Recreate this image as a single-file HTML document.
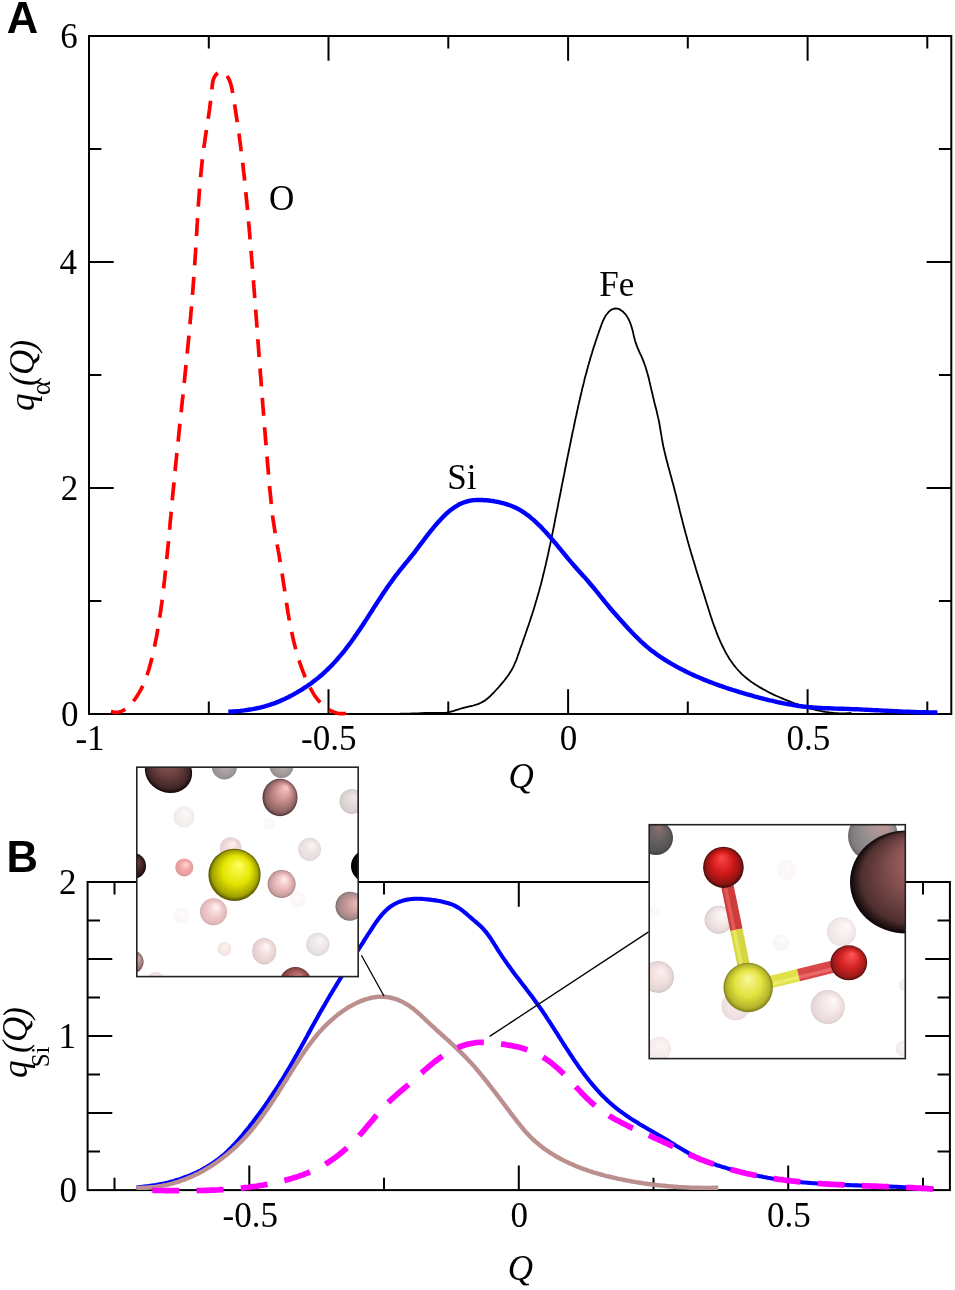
<!DOCTYPE html>
<html><head><meta charset="utf-8"><style>
html,body{margin:0;padding:0;background:#fff;width:955px;height:1290px;overflow:hidden}
svg{display:block;filter:blur(0.35px)}
</style></head><body>
<svg width="955" height="1290" viewBox="0 0 955 1290">
<rect x="89.0" y="36.0" width="862.3" height="678.0" fill="none" stroke="#000" stroke-width="2"/>
<path d="M328.5,714.0v-24.7M328.5,36.0v24.7M568.1,714.0v-24.7M568.1,36.0v24.7M807.6,714.0v-24.7M807.6,36.0v24.7M208.8,714.0v-12.4M208.8,36.0v12.4M448.3,714.0v-12.4M448.3,36.0v12.4M687.8,714.0v-12.4M687.8,36.0v12.4M927.3,714.0v-12.4M927.3,36.0v12.4M89.0,488.0h24.7M951.3,488.0h-24.7M89.0,262.0h24.7M951.3,262.0h-24.7M89.0,601.0h12.4M951.3,601.0h-12.4M89.0,375.0h12.4M951.3,375.0h-12.4M89.0,149.0h12.4M951.3,149.0h-12.4" stroke="#000" stroke-width="2" fill="none"/>
<path d="M111.0,711.4L113.2,712.0L115.3,712.3L117.3,712.3L119.2,712.0L121.1,711.4L122.8,710.6L124.5,709.7L126.2,708.5L127.7,707.3L129.2,705.9L130.6,704.4L132.0,702.8L133.3,701.2L134.6,699.6L135.8,698.0L136.9,696.3L138.0,694.6L139.0,692.9L140.0,691.1L141.0,689.4L141.9,687.6L142.8,685.8L143.6,684.0L144.4,682.2L145.1,680.3L145.8,678.5L146.5,676.6L147.2,674.7L147.8,672.8L148.4,670.9L149.0,669.0L149.5,667.1L150.1,665.1L150.6,663.2L151.1,661.3L151.6,659.3L152.1,657.4L152.5,655.4L153.0,653.5L153.4,651.5L153.9,649.6L154.3,647.6L154.7,645.7L155.1,643.7L155.5,641.7L155.9,639.8L156.3,637.8L156.7,635.9L157.0,633.9L157.4,631.9L157.7,629.9L158.1,628.0L158.4,626.0L158.7,624.0L159.0,622.0L159.3,620.1L159.6,618.1L159.9,616.1L160.2,614.1L160.5,612.1L160.8,610.1L161.1,608.1L161.3,606.2L161.6,604.2L161.9,602.2L162.1,600.2L162.4,598.2L162.6,596.2L162.8,594.2L163.1,592.2L163.3,590.2L163.6,588.2L163.8,586.2L164.0,584.3L164.2,582.3L164.5,580.3L164.7,578.3L164.9,576.3L165.1,574.3L165.3,572.3L165.6,570.3L165.8,568.3L166.0,566.3L166.2,564.3L166.4,562.3L166.6,560.3L166.8,558.3L167.0,556.3L167.2,554.3L167.4,552.3L167.6,550.3L167.8,548.3L168.0,546.3L168.2,544.3L168.4,542.4L168.5,540.4L168.7,538.4L168.9,536.4L169.1,534.4L169.3,532.4L169.5,530.4L169.7,528.4L169.9,526.4L170.0,524.4L170.2,522.4L170.4,520.4L170.6,518.4L170.8,516.4L171.0,514.4L171.1,512.4L171.3,510.4L171.5,508.4L171.7,506.4L171.9,504.4L172.1,502.4L172.3,500.4L172.4,498.4L172.6,496.4L172.8,494.4L173.0,492.4L173.2,490.5L173.4,488.5L173.6,486.5L173.8,484.5L174.0,482.5L174.2,480.5L174.3,478.5L174.5,476.5L174.7,474.5L174.9,472.5L175.1,470.5L175.3,468.5L175.5,466.5L175.7,464.5L175.9,462.6L176.1,460.6L176.3,458.6L176.5,456.6L176.7,454.6L176.9,452.6L177.1,450.6L177.4,448.6L177.6,446.6L177.8,444.6L178.0,442.6L178.2,440.7L178.4,438.7L178.6,436.7L178.8,434.7L179.0,432.7L179.2,430.7L179.4,428.7L179.6,426.7L179.8,424.7L180.0,422.7L180.3,420.8L180.5,418.8L180.7,416.8L180.9,414.8L181.1,412.8L181.3,410.8L181.5,408.8L181.7,406.8L181.9,404.8L182.1,402.8L182.3,400.9L182.5,398.9L182.8,396.9L183.0,394.9L183.2,392.9L183.4,390.9L183.6,388.9L183.8,386.9L184.0,384.9L184.2,382.9L184.4,381.0L184.6,379.0L184.8,377.0L185.0,375.0L185.2,373.0L185.4,371.0L185.6,369.0L185.8,367.0L186.0,365.0L186.2,363.0L186.4,361.0L186.6,359.0L186.8,357.0L187.0,355.1L187.2,353.1L187.4,351.1L187.6,349.1L187.8,347.1L188.0,345.1L188.2,343.1L188.4,341.1L188.6,339.1L188.8,337.1L188.9,335.1L189.1,333.1L189.3,331.1L189.5,329.1L189.7,327.1L189.9,325.1L190.1,323.1L190.2,321.1L190.4,319.1L190.6,317.1L190.8,315.1L190.9,313.1L191.1,311.1L191.3,309.1L191.5,307.1L191.6,305.1L191.8,303.1L192.0,301.1L192.1,299.1L192.3,297.1L192.5,295.1L192.6,293.1L192.8,291.1L192.9,289.1L193.1,287.1L193.2,285.1L193.4,283.1L193.5,281.1L193.7,279.1L193.8,277.1L194.0,275.0L194.1,273.0L194.3,271.0L194.4,269.0L194.5,267.0L194.7,265.0L194.8,263.0L194.9,261.0L195.1,259.0L195.2,256.9L195.3,254.9L195.5,252.9L195.6,250.9L195.7,248.9L195.8,246.9L195.9,244.9L196.1,242.8L196.2,240.8L196.3,238.8L196.4,236.8L196.5,234.8L196.7,232.8L196.8,230.8L196.9,228.7L197.0,226.7L197.1,224.7L197.3,222.7L197.4,220.7L197.5,218.7L197.6,216.7L197.7,214.7L197.9,212.6L198.0,210.6L198.1,208.6L198.3,206.6L198.4,204.6L198.5,202.6L198.7,200.6L198.8,198.6L199.0,196.6L199.1,194.6L199.3,192.6L199.4,190.6L199.6,188.6L199.7,186.6L199.9,184.6L200.1,182.6L200.2,180.6L200.4,178.6L200.6,176.6L200.8,174.7L201.0,172.7L201.2,170.7L201.4,168.7L201.6,166.7L201.8,164.8L202.0,162.8L202.2,160.8L202.4,158.8L202.7,156.9L202.9,154.9L203.2,152.9L203.4,151.0L203.7,149.0L203.9,147.1L204.2,145.1L204.5,143.2L204.8,141.2L205.0,139.3L205.3,137.3L205.6,135.4L205.9,133.4L206.2,131.4L206.5,129.5L206.8,127.5L207.1,125.6L207.4,123.6L207.7,121.6L208.0,119.7L208.3,117.7L208.6,115.7L208.9,113.7L209.2,111.7L209.5,109.7L209.7,107.7L210.0,105.7L210.3,103.6L210.5,101.6L210.8,99.5L211.0,97.5L211.3,95.4L211.5,93.3L211.7,91.2L211.9,89.1L212.1,87.0L212.3,84.9L212.6,82.8L213.0,80.8L213.6,78.9L214.3,77.2L215.3,75.5L216.5,74.1L218.0,72.8L219.7,71.9L221.5,71.6L223.2,72.0L224.7,73.0L226.2,74.6L227.4,76.4L228.5,78.3L229.4,80.3L230.2,82.2L230.8,84.2L231.3,86.1L231.8,88.1L232.2,90.1L232.5,92.0L232.8,94.0L233.1,95.9L233.4,97.9L233.8,99.9L234.1,101.9L234.4,103.8L234.8,105.8L235.1,107.8L235.4,109.8L235.7,111.7L236.0,113.7L236.3,115.7L236.6,117.7L236.9,119.7L237.2,121.6L237.5,123.6L237.8,125.6L238.1,127.6L238.4,129.6L238.7,131.6L238.9,133.5L239.2,135.5L239.5,137.5L239.7,139.5L240.0,141.5L240.3,143.5L240.5,145.5L240.8,147.4L241.0,149.4L241.3,151.4L241.5,153.4L241.8,155.4L242.0,157.4L242.3,159.4L242.5,161.4L242.7,163.4L243.0,165.3L243.2,167.3L243.4,169.3L243.6,171.3L243.9,173.3L244.1,175.3L244.3,177.3L244.5,179.3L244.7,181.3L244.9,183.3L245.1,185.3L245.3,187.3L245.5,189.3L245.7,191.2L245.9,193.2L246.1,195.2L246.3,197.2L246.5,199.2L246.7,201.2L246.9,203.2L247.1,205.2L247.3,207.2L247.5,209.2L247.7,211.2L247.9,213.2L248.0,215.2L248.2,217.2L248.4,219.2L248.6,221.2L248.7,223.2L248.9,225.2L249.1,227.2L249.3,229.2L249.4,231.2L249.6,233.2L249.8,235.2L249.9,237.2L250.1,239.2L250.3,241.2L250.4,243.2L250.6,245.2L250.8,247.2L250.9,249.2L251.1,251.2L251.3,253.2L251.4,255.2L251.6,257.2L251.7,259.2L251.9,261.2L252.1,263.2L252.2,265.2L252.4,267.2L252.5,269.2L252.7,271.2L252.8,273.2L253.0,275.2L253.2,277.2L253.3,279.2L253.5,281.2L253.6,283.2L253.8,285.2L253.9,287.2L254.1,289.2L254.2,291.1L254.4,293.1L254.5,295.1L254.7,297.1L254.8,299.1L255.0,301.1L255.1,303.1L255.3,305.1L255.4,307.1L255.6,309.1L255.8,311.1L255.9,313.1L256.1,315.1L256.2,317.1L256.4,319.1L256.5,321.1L256.7,323.1L256.8,325.1L257.0,327.1L257.1,329.1L257.3,331.1L257.4,333.1L257.6,335.1L257.7,337.1L257.8,339.1L258.0,341.1L258.1,343.1L258.3,345.1L258.4,347.1L258.6,349.1L258.7,351.1L258.9,353.1L259.0,355.1L259.2,357.1L259.3,359.1L259.5,361.1L259.6,363.1L259.8,365.1L259.9,367.1L260.1,369.1L260.2,371.1L260.4,373.1L260.5,375.1L260.7,377.1L260.9,379.1L261.0,381.1L261.2,383.1L261.3,385.1L261.5,387.1L261.6,389.1L261.8,391.1L261.9,393.1L262.1,395.1L262.2,397.1L262.4,399.1L262.5,401.1L262.7,403.1L262.8,405.1L263.0,407.1L263.2,409.1L263.3,411.1L263.5,413.1L263.6,415.1L263.8,417.1L263.9,419.1L264.1,421.1L264.3,423.1L264.4,425.1L264.6,427.1L264.7,429.1L264.9,431.1L265.1,433.1L265.2,435.1L265.4,437.1L265.5,439.1L265.7,441.0L265.9,443.0L266.0,445.0L266.2,447.0L266.4,449.0L266.5,451.0L266.7,453.0L266.9,455.0L267.0,457.0L267.2,459.0L267.4,461.0L267.5,463.0L267.7,465.0L267.9,467.0L268.1,469.0L268.2,471.0L268.4,473.0L268.6,475.0L268.8,477.0L268.9,479.0L269.1,481.0L269.3,483.0L269.5,485.0L269.6,487.0L269.8,489.0L270.0,491.0L270.2,492.9L270.4,494.9L270.6,496.9L270.8,498.9L271.0,500.9L271.2,502.9L271.4,504.9L271.6,506.9L271.8,508.9L272.0,510.9L272.3,512.9L272.5,514.9L272.7,516.8L273.0,518.8L273.3,520.8L273.6,522.8L273.9,524.8L274.2,526.8L274.5,528.7L274.8,530.7L275.1,532.7L275.4,534.7L275.8,536.7L276.1,538.6L276.5,540.6L276.8,542.6L277.2,544.6L277.5,546.5L277.9,548.5L278.2,550.5L278.6,552.5L278.9,554.5L279.3,556.4L279.6,558.4L279.9,560.4L280.3,562.4L280.6,564.3L280.9,566.3L281.2,568.3L281.6,570.3L281.9,572.3L282.2,574.3L282.5,576.2L282.8,578.2L283.1,580.2L283.4,582.2L283.7,584.2L284.0,586.1L284.3,588.1L284.6,590.1L284.8,592.1L285.1,594.1L285.4,596.1L285.7,598.0L286.0,600.0L286.3,602.0L286.6,604.0L287.0,605.9L287.3,607.9L287.6,609.9L287.9,611.9L288.2,613.8L288.6,615.8L288.9,617.8L289.3,619.7L289.6,621.7L290.0,623.7L290.4,625.6L290.8,627.6L291.2,629.5L291.6,631.5L292.0,633.5L292.4,635.4L292.8,637.4L293.3,639.3L293.7,641.2L294.2,643.2L294.7,645.1L295.2,647.1L295.7,649.0L296.2,650.9L296.8,652.8L297.3,654.8L297.9,656.7L298.5,658.6L299.1,660.5L299.7,662.4L300.4,664.3L301.0,666.2L301.7,668.1L302.4,670.0L303.1,671.9L303.9,673.8L304.6,675.7L305.4,677.6L306.2,679.4L307.0,681.3L307.9,683.2L308.8,685.0L309.7,686.8L310.6,688.7L311.6,690.4L312.6,692.2L313.6,693.9L314.7,695.6L315.9,697.2L317.1,698.8L318.3,700.4L319.6,701.8L320.9,703.3L322.3,704.6L323.8,705.9L325.3,707.2L326.8,708.3L328.5,709.4L330.2,710.4L332.0,711.3L333.8,712.1L335.7,712.7L337.7,713.3L339.7,713.6L341.7,713.7L343.7,713.6L345.8,713.3L347.8,712.6" fill="none" stroke="#f00" stroke-width="3.7" stroke-dasharray="18 11.5" stroke-dashoffset="3"/>
<path d="M400.0,713.6L402.0,713.7L404.0,713.7L406.0,713.7L408.0,713.7L410.0,713.6L412.0,713.5L414.0,713.4L416.0,713.3L418.0,713.3L420.0,713.2L422.0,713.1L424.0,713.0L426.0,712.9L428.1,712.9L430.1,712.9L432.1,712.9L434.1,713.0L436.1,713.0L438.2,713.0L440.2,713.0L442.2,713.0L444.2,712.8L446.1,712.6L448.1,712.3L450.0,711.9L452.0,711.4L453.9,710.9L455.8,710.2L457.7,709.6L459.6,709.0L461.6,708.4L463.5,707.9L465.5,707.4L467.5,706.9L469.5,706.4L471.5,706.0L473.4,705.5L475.3,704.9L477.2,704.3L479.1,703.6L480.9,702.8L482.6,701.9L484.3,700.9L485.9,699.8L487.5,698.5L489.0,697.2L490.5,695.9L491.9,694.4L493.3,693.0L494.7,691.5L496.1,690.0L497.5,688.5L498.9,687.0L500.2,685.4L501.5,683.9L502.8,682.4L504.1,680.8L505.3,679.2L506.5,677.6L507.7,676.0L508.8,674.4L509.9,672.7L511.0,671.0L512.0,669.3L512.9,667.6L513.8,665.8L514.6,664.0L515.4,662.1L516.2,660.3L516.9,658.4L517.6,656.5L518.2,654.6L518.9,652.7L519.6,650.8L520.2,648.9L520.9,647.0L521.6,645.1L522.3,643.2L522.9,641.3L523.6,639.4L524.2,637.5L524.9,635.6L525.6,633.7L526.2,631.8L526.9,629.9L527.5,628.0L528.2,626.1L528.8,624.2L529.5,622.3L530.1,620.4L530.7,618.5L531.3,616.6L532.0,614.7L532.6,612.8L533.2,610.9L533.8,609.0L534.4,607.1L535.0,605.1L535.5,603.2L536.1,601.3L536.7,599.4L537.2,597.5L537.8,595.6L538.3,593.6L538.9,591.7L539.4,589.8L539.9,587.8L540.5,585.9L541.0,584.0L541.5,582.0L542.0,580.1L542.5,578.1L542.9,576.2L543.4,574.2L543.9,572.3L544.4,570.4L544.8,568.4L545.3,566.4L545.8,564.5L546.2,562.5L546.6,560.6L547.1,558.6L547.5,556.7L548.0,554.7L548.4,552.7L548.8,550.8L549.2,548.8L549.6,546.9L550.1,544.9L550.5,542.9L550.9,541.0L551.3,539.0L551.7,537.0L552.1,535.1L552.5,533.1L552.9,531.1L553.3,529.2L553.7,527.2L554.1,525.2L554.5,523.3L554.9,521.3L555.2,519.3L555.6,517.3L556.0,515.4L556.4,513.4L556.8,511.4L557.2,509.5L557.6,507.5L558.0,505.5L558.3,503.6L558.7,501.6L559.1,499.6L559.5,497.7L559.9,495.7L560.3,493.7L560.7,491.8L561.1,489.8L561.4,487.8L561.8,485.9L562.2,483.9L562.6,481.9L563.0,480.0L563.4,478.0L563.8,476.1L564.2,474.1L564.6,472.1L564.9,470.2L565.3,468.2L565.7,466.2L566.1,464.3L566.5,462.3L566.9,460.3L567.3,458.4L567.7,456.4L568.1,454.4L568.5,452.5L568.9,450.5L569.3,448.6L569.7,446.6L570.1,444.6L570.5,442.7L570.9,440.7L571.3,438.7L571.7,436.8L572.1,434.8L572.5,432.8L572.9,430.9L573.4,428.9L573.8,427.0L574.2,425.0L574.6,423.0L575.0,421.1L575.4,419.1L575.8,417.1L576.3,415.2L576.7,413.2L577.1,411.2L577.6,409.3L578.0,407.3L578.4,405.4L578.9,403.4L579.3,401.4L579.8,399.5L580.2,397.5L580.7,395.6L581.1,393.6L581.6,391.7L582.0,389.7L582.5,387.8L583.0,385.8L583.5,383.9L584.0,381.9L584.4,380.0L584.9,378.0L585.4,376.1L586.0,374.2L586.5,372.2L587.0,370.3L587.5,368.4L588.0,366.4L588.6,364.5L589.1,362.6L589.7,360.7L590.2,358.7L590.8,356.8L591.4,354.9L592.0,353.0L592.5,351.1L593.1,349.2L593.7,347.3L594.4,345.4L595.0,343.5L595.6,341.6L596.2,339.7L596.9,337.8L597.5,335.9L598.2,334.0L598.8,332.1L599.5,330.2L600.2,328.3L600.9,326.4L601.5,324.5L602.3,322.6L603.1,320.7L603.9,318.9L604.9,317.1L605.9,315.3L607.2,313.7L608.5,312.1L610.0,310.7L611.6,309.6L613.4,308.8L615.3,308.5L617.3,308.7L619.2,309.2L621.0,310.2L622.7,311.4L624.1,312.8L625.5,314.3L626.7,315.9L627.7,317.6L628.7,319.3L629.5,321.1L630.2,322.9L630.9,324.8L631.5,326.7L632.1,328.7L632.6,330.6L633.1,332.6L633.5,334.6L634.0,336.6L634.5,338.5L635.0,340.5L635.6,342.4L636.3,344.4L636.9,346.2L637.7,348.1L638.5,349.9L639.3,351.8L640.1,353.6L641.0,355.4L641.8,357.2L642.6,359.1L643.3,360.9L644.0,362.8L644.7,364.7L645.4,366.5L646.0,368.5L646.6,370.4L647.1,372.3L647.7,374.2L648.2,376.2L648.7,378.1L649.2,380.1L649.6,382.0L650.1,384.0L650.5,385.9L651.0,387.9L651.4,389.9L651.9,391.8L652.4,393.8L652.8,395.8L653.3,397.7L653.8,399.7L654.2,401.6L654.7,403.6L655.2,405.5L655.7,407.4L656.2,409.4L656.7,411.3L657.1,413.3L657.6,415.2L658.0,417.2L658.5,419.1L658.9,421.1L659.3,423.0L659.6,425.0L660.0,427.0L660.3,429.0L660.6,430.9L660.9,432.9L661.3,434.9L661.6,436.9L661.9,438.9L662.3,440.8L662.6,442.8L663.0,444.8L663.4,446.7L663.9,448.7L664.3,450.7L664.8,452.6L665.2,454.6L665.7,456.5L666.2,458.5L666.7,460.4L667.2,462.3L667.7,464.3L668.2,466.2L668.8,468.2L669.3,470.1L669.8,472.0L670.3,474.0L670.9,475.9L671.4,477.8L671.9,479.8L672.4,481.7L673.0,483.6L673.5,485.6L674.0,487.5L674.5,489.5L675.0,491.4L675.5,493.4L676.0,495.3L676.5,497.2L676.9,499.2L677.4,501.1L677.9,503.1L678.4,505.0L678.9,507.0L679.4,508.9L679.8,510.9L680.3,512.8L680.8,514.7L681.3,516.7L681.8,518.6L682.3,520.6L682.8,522.5L683.3,524.5L683.8,526.4L684.3,528.3L684.8,530.3L685.3,532.2L685.8,534.1L686.4,536.1L686.9,538.0L687.4,539.9L688.0,541.9L688.5,543.8L689.1,545.7L689.6,547.7L690.2,549.6L690.7,551.5L691.3,553.4L691.9,555.4L692.5,557.3L693.0,559.2L693.6,561.1L694.2,563.1L694.8,565.0L695.4,566.9L695.9,568.8L696.5,570.7L697.1,572.7L697.7,574.6L698.3,576.5L698.9,578.4L699.5,580.3L700.1,582.2L700.7,584.2L701.3,586.1L701.9,588.0L702.5,589.9L703.1,591.8L703.7,593.7L704.3,595.6L704.9,597.5L705.5,599.4L706.1,601.4L706.7,603.3L707.3,605.2L707.9,607.1L708.5,609.0L709.1,610.9L709.7,612.8L710.3,614.7L710.9,616.6L711.6,618.5L712.2,620.4L712.8,622.3L713.5,624.2L714.2,626.1L714.9,627.9L715.6,629.8L716.3,631.7L717.0,633.6L717.7,635.4L718.5,637.3L719.3,639.2L720.1,641.0L720.9,642.9L721.8,644.7L722.7,646.5L723.6,648.3L724.5,650.1L725.4,651.9L726.4,653.7L727.4,655.4L728.5,657.2L729.5,658.9L730.6,660.5L731.8,662.2L732.9,663.8L734.1,665.4L735.4,667.0L736.6,668.5L738.0,670.0L739.3,671.5L740.7,672.9L742.1,674.3L743.6,675.7L745.1,677.0L746.6,678.3L748.2,679.5L749.8,680.7L751.5,681.9L753.1,683.1L754.8,684.2L756.5,685.3L758.2,686.3L759.9,687.4L761.7,688.4L763.4,689.4L765.2,690.3L766.9,691.3L768.7,692.2L770.5,693.1L772.3,694.0L774.1,694.9L775.9,695.7L777.8,696.5L779.6,697.3L781.4,698.1L783.3,698.9L785.1,699.7L787.0,700.4L788.9,701.1L790.7,701.9L792.6,702.6L794.5,703.3L796.4,703.9L798.3,704.6L800.2,705.3L802.1,705.9L804.0,706.5L805.9,707.1L807.8,707.7L809.7,708.3L811.7,708.8L813.6,709.3L815.5,709.8L817.5,710.3L819.4,710.7L821.4,711.2L823.3,711.5L825.3,711.9L827.3,712.2L829.3,712.5L831.3,712.7L833.2,712.9L835.2,713.1L837.3,713.2L839.3,713.3L841.3,713.4L843.3,713.4L845.4,713.3L847.4,713.2L849.4,713.1L851.5,712.9" fill="none" stroke="#000" stroke-width="1.8"/>
<path d="M228.3,711.7L230.3,711.6L232.3,711.5L234.3,711.4L236.3,711.2L238.3,711.1L240.3,710.9L242.3,710.6L244.3,710.4L246.3,710.1L248.3,709.8L250.2,709.5L252.2,709.2L254.2,708.8L256.2,708.4L258.1,708.0L260.1,707.6L262.0,707.1L264.0,706.6L265.9,706.0L267.8,705.5L269.8,704.9L271.7,704.2L273.5,703.6L275.4,702.9L277.3,702.1L279.1,701.4L281.0,700.6L282.8,699.8L284.6,699.0L286.5,698.1L288.3,697.2L290.0,696.3L291.8,695.4L293.6,694.4L295.3,693.4L297.1,692.4L298.8,691.4L300.5,690.4L302.2,689.3L303.9,688.2L305.6,687.1L307.3,686.0L308.9,684.9L310.6,683.7L312.2,682.5L313.8,681.3L315.4,680.1L316.9,678.9L318.5,677.6L320.0,676.3L321.6,675.0L323.1,673.7L324.5,672.4L326.0,671.0L327.4,669.6L328.9,668.2L330.3,666.8L331.7,665.4L333.1,663.9L334.4,662.4L335.8,661.0L337.1,659.5L338.4,657.9L339.7,656.4L341.0,654.9L342.3,653.3L343.6,651.8L344.8,650.2L346.0,648.6L347.3,647.0L348.5,645.4L349.7,643.8L350.9,642.2L352.1,640.6L353.2,638.9L354.4,637.3L355.5,635.6L356.7,634.0L357.8,632.3L358.9,630.7L360.1,629.0L361.2,627.3L362.3,625.7L363.4,624.0L364.5,622.3L365.6,620.6L366.7,618.9L367.7,617.3L368.8,615.6L369.9,613.9L371.0,612.2L372.1,610.5L373.1,608.8L374.2,607.1L375.3,605.5L376.4,603.8L377.5,602.1L378.6,600.4L379.7,598.7L380.8,597.1L381.9,595.4L383.0,593.7L384.1,592.0L385.2,590.4L386.4,588.7L387.5,587.1L388.7,585.4L389.8,583.8L391.0,582.2L392.2,580.5L393.4,578.9L394.5,577.3L395.7,575.7L397.0,574.1L398.2,572.5L399.4,570.9L400.7,569.4L401.9,567.8L403.2,566.3L404.5,564.7L405.7,563.2L407.0,561.6L408.3,560.1L409.5,558.5L410.8,557.0L412.0,555.4L413.3,553.8L414.5,552.3L415.7,550.7L416.9,549.1L418.1,547.5L419.3,545.9L420.5,544.3L421.8,542.7L423.0,541.1L424.2,539.5L425.4,537.9L426.6,536.3L427.8,534.7L429.1,533.1L430.3,531.5L431.6,529.9L432.9,528.4L434.1,526.8L435.5,525.3L436.8,523.7L438.1,522.2L439.5,520.7L440.9,519.2L442.3,517.7L443.7,516.3L445.1,514.9L446.6,513.5L448.1,512.2L449.6,510.9L451.2,509.6L452.8,508.5L454.4,507.3L456.0,506.3L457.7,505.3L459.4,504.3L461.2,503.5L463.0,502.7L464.8,502.1L466.6,501.5L468.5,501.0L470.4,500.6L472.4,500.3L474.4,500.1L476.4,500.0L478.4,500.0L480.4,500.0L482.5,500.0L484.5,500.2L486.6,500.3L488.6,500.5L490.7,500.8L492.7,501.0L494.7,501.4L496.7,501.7L498.7,502.1L500.7,502.6L502.7,503.1L504.6,503.6L506.5,504.2L508.4,504.8L510.3,505.5L512.2,506.2L514.0,507.0L515.8,507.8L517.6,508.7L519.3,509.7L521.0,510.7L522.7,511.7L524.4,512.8L526.0,514.0L527.6,515.1L529.2,516.3L530.7,517.6L532.3,518.9L533.8,520.2L535.3,521.5L536.7,522.9L538.2,524.3L539.6,525.7L541.1,527.1L542.5,528.6L543.8,530.1L545.2,531.5L546.6,533.0L547.9,534.5L549.2,536.0L550.6,537.5L551.9,539.1L553.2,540.6L554.5,542.1L555.8,543.7L557.0,545.2L558.3,546.7L559.6,548.3L560.9,549.8L562.1,551.4L563.4,552.9L564.7,554.5L566.0,556.0L567.3,557.6L568.5,559.1L569.8,560.6L571.1,562.2L572.4,563.7L573.8,565.2L575.1,566.7L576.4,568.2L577.7,569.7L579.1,571.2L580.4,572.7L581.8,574.2L583.1,575.7L584.4,577.1L585.8,578.6L587.1,580.1L588.4,581.7L589.7,583.2L591.0,584.7L592.3,586.2L593.6,587.8L594.9,589.3L596.1,590.9L597.4,592.4L598.6,594.0L599.9,595.6L601.2,597.1L602.4,598.7L603.7,600.2L604.9,601.8L606.2,603.4L607.5,604.9L608.7,606.4L610.0,608.0L611.3,609.5L612.6,611.0L613.9,612.5L615.3,614.0L616.6,615.5L617.9,617.0L619.2,618.5L620.6,620.0L621.9,621.5L623.3,623.0L624.6,624.5L626.0,626.0L627.3,627.5L628.7,629.0L630.1,630.4L631.4,631.9L632.8,633.3L634.2,634.8L635.6,636.2L637.1,637.6L638.5,639.0L639.9,640.4L641.4,641.8L642.9,643.1L644.4,644.5L645.9,645.8L647.4,647.1L648.9,648.4L650.5,649.7L652.1,650.9L653.7,652.1L655.3,653.3L656.9,654.5L658.5,655.6L660.2,656.8L661.9,657.9L663.5,659.0L665.2,660.0L667.0,661.1L668.7,662.1L670.4,663.2L672.1,664.2L673.9,665.2L675.6,666.1L677.4,667.1L679.2,668.1L680.9,669.0L682.7,669.9L684.5,670.8L686.3,671.7L688.1,672.6L689.9,673.4L691.7,674.3L693.6,675.1L695.4,675.9L697.2,676.7L699.1,677.5L700.9,678.3L702.8,679.1L704.6,679.9L706.5,680.6L708.3,681.4L710.2,682.1L712.1,682.8L714.0,683.5L715.8,684.2L717.7,684.9L719.6,685.6L721.5,686.2L723.4,686.9L725.3,687.5L727.2,688.2L729.1,688.8L731.0,689.4L732.9,690.0L734.9,690.6L736.8,691.2L738.7,691.8L740.6,692.4L742.6,693.0L744.5,693.5L746.4,694.1L748.3,694.6L750.3,695.2L752.2,695.7L754.1,696.3L756.1,696.8L758.0,697.3L760.0,697.8L761.9,698.3L763.9,698.8L765.8,699.3L767.7,699.8L769.7,700.3L771.6,700.7L773.6,701.2L775.5,701.6L777.5,702.1L779.5,702.5L781.4,702.9L783.4,703.3L785.3,703.7L787.3,704.0L789.3,704.4L791.2,704.7L793.2,705.1L795.2,705.4L797.2,705.7L799.1,706.0L801.1,706.2L803.1,706.5L805.1,706.7L807.1,706.9L809.1,707.1L811.1,707.3L813.1,707.5L815.1,707.6L817.1,707.7L819.1,707.9L821.1,708.0L823.1,708.1L825.1,708.2L827.1,708.3L829.1,708.3L831.1,708.4L833.2,708.5L835.2,708.6L837.2,708.6L839.2,708.7L841.2,708.7L843.2,708.8L845.2,708.9L847.2,708.9L849.2,709.0L851.3,709.1L853.3,709.2L855.3,709.2L857.3,709.3L859.3,709.4L861.3,709.5L863.3,709.6L865.3,709.7L867.3,709.8L869.3,709.9L871.3,710.0L873.3,710.1L875.3,710.2L877.3,710.3L879.3,710.4L881.3,710.5L883.3,710.6L885.3,710.7L887.3,710.8L889.3,710.9L891.3,711.0L893.3,711.1L895.3,711.2L897.3,711.3L899.3,711.4L901.3,711.5L903.3,711.6L905.3,711.6L907.3,711.7L909.3,711.8L911.3,711.9L913.3,712.0L915.3,712.0L917.3,712.1L919.3,712.2L921.3,712.2L923.3,712.3L925.3,712.3L927.3,712.4L929.4,712.4L931.4,712.4L933.4,712.5L935.4,712.5L937.4,712.5" fill="none" stroke="#00f" stroke-width="4.4"/>
<rect x="87.6" y="882.0" width="862.3" height="308.1" fill="none" stroke="#000" stroke-width="2"/>
<path d="M249.3,1190.1v-24.7M249.3,882.0v24.7M518.8,1190.1v-24.7M518.8,882.0v24.7M788.2,1190.1v-24.7M788.2,882.0v24.7M114.5,1190.1v-12.4M114.5,882.0v12.4M384.0,1190.1v-12.4M384.0,882.0v12.4M653.5,1190.1v-12.4M653.5,882.0v12.4M923.0,1190.1v-12.4M923.0,882.0v12.4M87.6,1113.1h24.7M949.9,1113.1h-24.7M87.6,1036.0h24.7M949.9,1036.0h-24.7M87.6,959.0h24.7M949.9,959.0h-24.7M87.6,1151.6h12.4M949.9,1151.6h-12.4M87.6,1074.6h12.4M949.9,1074.6h-12.4M87.6,997.5h12.4M949.9,997.5h-12.4M87.6,920.5h12.4M949.9,920.5h-12.4" stroke="#000" stroke-width="2" fill="none"/>
<path d="M136.5,1187.3L138.5,1187.2L140.4,1187.0L142.4,1186.8L144.3,1186.6L146.3,1186.4L148.3,1186.2L150.3,1185.9L152.2,1185.6L154.2,1185.3L156.2,1185.0L158.2,1184.6L160.2,1184.2L162.2,1183.8L164.1,1183.4L166.1,1182.9L168.1,1182.5L170.0,1182.0L172.0,1181.4L174.0,1180.9L175.9,1180.3L177.9,1179.7L179.8,1179.1L181.7,1178.4L183.6,1177.7L185.5,1177.0L187.4,1176.3L189.3,1175.6L191.2,1174.8L193.1,1174.0L194.9,1173.1L196.7,1172.3L198.6,1171.4L200.4,1170.5L202.2,1169.5L203.9,1168.6L205.7,1167.6L207.4,1166.5L209.1,1165.5L210.8,1164.4L212.5,1163.3L214.2,1162.2L215.8,1161.0L217.4,1159.8L219.0,1158.6L220.6,1157.4L222.1,1156.1L223.7,1154.8L225.2,1153.5L226.6,1152.1L228.1,1150.7L229.5,1149.3L230.9,1147.9L232.3,1146.5L233.7,1145.0L235.1,1143.6L236.4,1142.1L237.8,1140.6L239.1,1139.1L240.4,1137.5L241.7,1136.0L243.0,1134.5L244.3,1132.9L245.5,1131.4L246.8,1129.8L248.1,1128.2L249.3,1126.7L250.5,1125.1L251.8,1123.5L253.0,1121.9L254.2,1120.3L255.4,1118.7L256.6,1117.1L257.8,1115.5L259.0,1113.9L260.2,1112.3L261.4,1110.7L262.5,1109.1L263.7,1107.4L264.9,1105.8L266.0,1104.2L267.1,1102.5L268.3,1100.9L269.4,1099.2L270.5,1097.5L271.6,1095.9L272.7,1094.2L273.8,1092.5L274.9,1090.9L276.0,1089.2L277.1,1087.5L278.2,1085.8L279.3,1084.1L280.3,1082.4L281.4,1080.7L282.5,1079.0L283.5,1077.3L284.6,1075.6L285.6,1073.9L286.6,1072.1L287.7,1070.4L288.7,1068.7L289.7,1067.0L290.7,1065.2L291.7,1063.5L292.7,1061.8L293.7,1060.0L294.7,1058.3L295.7,1056.5L296.7,1054.8L297.7,1053.0L298.7,1051.3L299.7,1049.5L300.7,1047.7L301.6,1046.0L302.6,1044.2L303.6,1042.4L304.6,1040.7L305.5,1038.9L306.5,1037.2L307.5,1035.4L308.4,1033.6L309.4,1031.9L310.4,1030.1L311.3,1028.3L312.3,1026.6L313.3,1024.8L314.3,1023.1L315.2,1021.3L316.2,1019.6L317.2,1017.8L318.2,1016.1L319.1,1014.3L320.1,1012.6L321.1,1010.8L322.1,1009.1L323.1,1007.4L324.1,1005.7L325.1,1003.9L326.1,1002.2L327.1,1000.5L328.1,998.8L329.1,997.1L330.1,995.3L331.2,993.6L332.2,991.9L333.2,990.2L334.2,988.5L335.3,986.8L336.3,985.1L337.3,983.4L338.4,981.7L339.4,980.0L340.4,978.3L341.5,976.6L342.5,974.9L343.6,973.2L344.6,971.5L345.7,969.8L346.7,968.1L347.8,966.4L348.9,964.7L349.9,963.0L351.0,961.3L352.0,959.6L353.1,957.9L354.2,956.2L355.3,954.5L356.3,952.8L357.4,951.1L358.5,949.4L359.6,947.7L360.7,946.0L361.8,944.3L362.9,942.6L363.9,940.9L365.0,939.2L366.1,937.5L367.2,935.7L368.3,934.0L369.4,932.3L370.6,930.6L371.7,928.9L372.8,927.1L373.9,925.4L375.1,923.7L376.2,922.0L377.4,920.4L378.6,918.8L379.8,917.2L381.1,915.6L382.4,914.1L383.7,912.7L385.1,911.3L386.5,909.9L387.9,908.6L389.4,907.4L391.0,906.3L392.6,905.2L394.3,904.2L396.0,903.3L397.8,902.5L399.6,901.7L401.5,901.1L403.4,900.5L405.4,900.0L407.4,899.6L409.4,899.3L411.4,899.0L413.5,898.9L415.5,898.8L417.5,898.7L419.5,898.8L421.6,898.9L423.6,899.0L425.6,899.2L427.6,899.4L429.6,899.6L431.6,899.9L433.6,900.1L435.6,900.4L437.6,900.7L439.6,901.1L441.5,901.5L443.5,901.9L445.4,902.4L447.3,902.9L449.2,903.5L451.1,904.2L452.9,904.9L454.7,905.7L456.4,906.6L458.2,907.6L459.8,908.6L461.5,909.8L463.0,911.0L464.6,912.3L466.2,913.6L467.7,914.9L469.2,916.3L470.8,917.6L472.3,918.9L473.8,920.3L475.4,921.6L476.9,922.9L478.4,924.2L479.9,925.6L481.4,927.0L482.8,928.4L484.1,929.9L485.4,931.4L486.6,932.9L487.9,934.5L489.0,936.1L490.2,937.7L491.3,939.4L492.4,941.1L493.5,942.8L494.5,944.5L495.6,946.2L496.7,947.9L497.7,949.6L498.8,951.3L499.9,953.0L501.0,954.7L502.1,956.3L503.2,958.0L504.3,959.7L505.5,961.3L506.6,962.9L507.8,964.6L509.0,966.2L510.2,967.8L511.3,969.4L512.5,971.0L513.7,972.7L514.9,974.3L516.2,975.9L517.4,977.5L518.6,979.0L519.8,980.6L521.0,982.2L522.2,983.8L523.5,985.4L524.7,987.0L525.9,988.6L527.1,990.2L528.3,991.8L529.6,993.4L530.8,995.0L532.0,996.6L533.2,998.2L534.3,999.8L535.5,1001.4L536.7,1003.0L537.9,1004.7L539.0,1006.3L540.2,1007.9L541.3,1009.6L542.5,1011.2L543.6,1012.9L544.7,1014.5L545.8,1016.2L546.9,1017.9L548.0,1019.6L549.1,1021.2L550.2,1022.9L551.3,1024.6L552.4,1026.3L553.5,1028.0L554.5,1029.7L555.6,1031.4L556.7,1033.0L557.8,1034.7L558.8,1036.4L559.9,1038.1L561.0,1039.8L562.1,1041.5L563.1,1043.2L564.2,1044.9L565.3,1046.6L566.4,1048.3L567.5,1049.9L568.6,1051.6L569.7,1053.3L570.8,1055.0L571.9,1056.6L573.0,1058.3L574.1,1060.0L575.2,1061.6L576.4,1063.3L577.5,1064.9L578.7,1066.6L579.8,1068.2L581.0,1069.8L582.2,1071.4L583.4,1073.1L584.6,1074.7L585.8,1076.2L587.0,1077.8L588.3,1079.4L589.5,1081.0L590.8,1082.5L592.1,1084.1L593.4,1085.6L594.7,1087.1L596.0,1088.7L597.3,1090.2L598.7,1091.6L600.0,1093.1L601.4,1094.6L602.8,1096.0L604.2,1097.4L605.7,1098.8L607.1,1100.2L608.6,1101.6L610.1,1102.9L611.6,1104.3L613.1,1105.6L614.7,1106.8L616.2,1108.1L617.8,1109.3L619.4,1110.6L621.0,1111.8L622.6,1112.9L624.3,1114.1L625.9,1115.2L627.6,1116.4L629.2,1117.5L630.9,1118.6L632.6,1119.7L634.3,1120.7L636.0,1121.8L637.7,1122.8L639.4,1123.9L641.1,1124.9L642.8,1125.9L644.6,1126.9L646.3,1128.0L648.0,1129.0L649.7,1130.0L651.5,1131.0L653.2,1132.0L654.9,1133.0L656.7,1134.0L658.4,1135.0L660.2,1136.0L661.9,1137.0L663.6,1138.0L665.3,1139.1L667.1,1140.1L668.8,1141.1L670.5,1142.2L672.2,1143.2L673.9,1144.3L675.6,1145.4L677.3,1146.4L679.1,1147.5L680.8,1148.5L682.5,1149.5L684.2,1150.6L686.0,1151.6L687.7,1152.6L689.5,1153.5L691.2,1154.5L693.0,1155.4L694.8,1156.3L696.6,1157.1L698.4,1158.0L700.2,1158.8L702.0,1159.6L703.9,1160.4L705.7,1161.1L707.6,1161.8L709.5,1162.5L711.3,1163.2L713.2,1163.9L715.1,1164.5L717.0,1165.2L718.9,1165.8L720.8,1166.4L722.7,1167.0L724.7,1167.5L726.6,1168.1L728.5,1168.7L730.5,1169.2L732.4,1169.7L734.3,1170.3L736.3,1170.8L738.2,1171.3L740.2,1171.8L742.1,1172.3L744.1,1172.7L746.0,1173.2L748.0,1173.7L749.9,1174.1L751.9,1174.6L753.8,1175.0L755.8,1175.4L757.8,1175.8L759.7,1176.2L761.7,1176.6L763.7,1177.0L765.6,1177.3L767.6,1177.7L769.6,1178.0L771.6,1178.4L773.5,1178.7L775.5,1179.0L777.5,1179.3L779.5,1179.6L781.5,1179.9L783.5,1180.1L785.4,1180.4L787.4,1180.6L789.4,1180.9L791.4,1181.1L793.4,1181.4L795.4,1181.6L797.4,1181.8L799.4,1182.0L801.3,1182.2L803.3,1182.4L805.3,1182.5L807.3,1182.7L809.3,1182.9L811.3,1183.0L813.3,1183.2L815.3,1183.3L817.3,1183.5L819.3,1183.6L821.3,1183.8L823.3,1183.9L825.3,1184.0L827.3,1184.1L829.3,1184.2L831.3,1184.3L833.3,1184.4L835.3,1184.5L837.3,1184.6L839.3,1184.7L841.3,1184.8L843.3,1184.9L845.4,1185.0L847.4,1185.1L849.4,1185.1L851.4,1185.2L853.4,1185.3L855.4,1185.4L857.4,1185.4L859.4,1185.5L861.4,1185.6L863.4,1185.6L865.4,1185.7L867.4,1185.8L869.4,1185.8L871.4,1185.9L873.4,1186.0L875.5,1186.0L877.5,1186.1L879.5,1186.2L881.5,1186.2L883.5,1186.3L885.5,1186.4L887.5,1186.5L889.5,1186.5L891.5,1186.6L893.5,1186.7L895.5,1186.8L897.5,1186.9L899.5,1187.0L901.5,1187.1L903.5,1187.2L905.5,1187.3L907.5,1187.4L909.5,1187.5L911.5,1187.6L913.5,1187.7L915.5,1187.8L917.5,1188.0L919.5,1188.1L921.5,1188.2L923.5,1188.4L925.5,1188.5L927.5,1188.7L929.5,1188.8L931.5,1189.0L933.5,1189.2" fill="none" stroke="#00f" stroke-width="4.1"/>
<path d="M136.5,1187.9L138.6,1187.9L140.7,1187.9L142.8,1187.8L144.8,1187.8L146.9,1187.7L149.0,1187.5L151.0,1187.3L153.1,1187.1L155.1,1186.9L157.1,1186.6L159.1,1186.3L161.2,1186.0L163.1,1185.6L165.1,1185.2L167.1,1184.8L169.1,1184.3L171.0,1183.8L173.0,1183.3L174.9,1182.7L176.8,1182.2L178.7,1181.6L180.6,1180.9L182.5,1180.2L184.4,1179.6L186.2,1178.8L188.1,1178.1L189.9,1177.3L191.8,1176.5L193.6,1175.7L195.4,1174.8L197.2,1174.0L199.0,1173.1L200.7,1172.1L202.5,1171.2L204.2,1170.2L206.0,1169.2L207.7,1168.2L209.4,1167.2L211.1,1166.1L212.7,1165.0L214.4,1163.9L216.1,1162.8L217.7,1161.6L219.3,1160.5L220.9,1159.3L222.5,1158.1L224.1,1156.8L225.7,1155.6L227.2,1154.3L228.8,1153.0L230.3,1151.7L231.8,1150.4L233.3,1149.1L234.8,1147.7L236.3,1146.3L237.7,1144.9L239.1,1143.5L240.6,1142.1L242.0,1140.7L243.4,1139.2L244.7,1137.8L246.1,1136.3L247.4,1134.8L248.8,1133.3L250.1,1131.8L251.4,1130.2L252.7,1128.7L253.9,1127.1L255.2,1125.5L256.4,1124.0L257.7,1122.4L258.9,1120.8L260.1,1119.2L261.3,1117.5L262.5,1115.9L263.7,1114.3L264.8,1112.6L266.0,1111.0L267.2,1109.3L268.3,1107.7L269.4,1106.0L270.6,1104.3L271.7,1102.6L272.8,1101.0L273.9,1099.3L275.0,1097.6L276.1,1095.9L277.2,1094.2L278.3,1092.5L279.4,1090.7L280.4,1089.0L281.5,1087.3L282.6,1085.6L283.6,1083.9L284.7,1082.2L285.8,1080.5L286.9,1078.8L287.9,1077.1L289.0,1075.3L290.1,1073.6L291.1,1071.9L292.2,1070.2L293.3,1068.5L294.3,1066.8L295.4,1065.1L296.5,1063.5L297.6,1061.8L298.7,1060.1L299.8,1058.4L300.9,1056.8L302.0,1055.1L303.1,1053.5L304.2,1051.8L305.3,1050.2L306.5,1048.6L307.6,1047.0L308.8,1045.4L310.0,1043.8L311.2,1042.2L312.4,1040.6L313.6,1039.0L314.9,1037.5L316.2,1036.0L317.4,1034.4L318.7,1032.9L320.0,1031.4L321.4,1030.0L322.7,1028.5L324.1,1027.1L325.5,1025.6L327.0,1024.2L328.4,1022.8L329.9,1021.5L331.4,1020.1L332.9,1018.8L334.5,1017.4L336.1,1016.1L337.7,1014.8L339.3,1013.6L341.0,1012.4L342.7,1011.1L344.4,1010.0L346.1,1008.8L347.9,1007.7L349.7,1006.6L351.5,1005.6L353.4,1004.6L355.2,1003.6L357.1,1002.7L359.0,1001.9L360.8,1001.1L362.8,1000.4L364.7,999.7L366.6,999.1L368.5,998.5L370.5,998.0L372.4,997.6L374.4,997.3L376.3,997.0L378.3,996.8L380.2,996.7L382.2,996.7L384.1,996.8L386.1,997.0L388.0,997.2L389.9,997.5L391.9,998.0L393.8,998.5L395.6,999.1L397.5,999.7L399.3,1000.4L401.2,1001.3L403.0,1002.1L404.7,1003.1L406.4,1004.1L408.1,1005.1L409.8,1006.2L411.4,1007.4L413.0,1008.6L414.6,1009.9L416.2,1011.2L417.7,1012.5L419.2,1013.9L420.7,1015.2L422.2,1016.6L423.7,1018.0L425.2,1019.4L426.7,1020.8L428.1,1022.2L429.6,1023.6L431.1,1025.0L432.6,1026.4L434.1,1027.7L435.6,1029.1L437.1,1030.5L438.6,1031.8L440.1,1033.2L441.5,1034.5L443.0,1035.8L444.5,1037.2L446.0,1038.5L447.5,1039.9L449.0,1041.2L450.4,1042.6L451.9,1043.9L453.4,1045.3L454.8,1046.6L456.3,1048.0L457.7,1049.4L459.2,1050.8L460.6,1052.1L462.0,1053.5L463.4,1054.9L464.9,1056.4L466.2,1057.8L467.6,1059.2L469.0,1060.7L470.4,1062.2L471.7,1063.6L473.0,1065.1L474.4,1066.6L475.7,1068.2L477.0,1069.7L478.3,1071.2L479.6,1072.8L480.9,1074.3L482.1,1075.9L483.4,1077.5L484.7,1079.0L485.9,1080.6L487.2,1082.2L488.4,1083.8L489.6,1085.4L490.9,1086.9L492.1,1088.5L493.3,1090.1L494.6,1091.7L495.8,1093.3L497.0,1094.9L498.2,1096.5L499.5,1098.1L500.7,1099.7L501.9,1101.3L503.1,1102.9L504.3,1104.5L505.5,1106.1L506.7,1107.7L507.9,1109.3L509.1,1110.9L510.3,1112.5L511.5,1114.1L512.7,1115.7L514.0,1117.3L515.2,1118.9L516.4,1120.5L517.6,1122.1L518.9,1123.7L520.1,1125.2L521.4,1126.8L522.7,1128.3L523.9,1129.9L525.3,1131.4L526.6,1132.9L528.0,1134.3L529.4,1135.8L530.8,1137.2L532.2,1138.6L533.7,1140.0L535.2,1141.3L536.7,1142.6L538.2,1143.9L539.8,1145.2L541.4,1146.5L543.0,1147.7L544.6,1148.9L546.2,1150.0L547.9,1151.2L549.6,1152.3L551.3,1153.4L553.0,1154.5L554.7,1155.5L556.4,1156.5L558.2,1157.5L559.9,1158.5L561.7,1159.4L563.5,1160.4L565.3,1161.3L567.1,1162.1L568.9,1163.0L570.7,1163.8L572.5,1164.6L574.4,1165.4L576.2,1166.2L578.1,1166.9L579.9,1167.7L581.8,1168.4L583.7,1169.1L585.6,1169.7L587.5,1170.4L589.4,1171.0L591.3,1171.7L593.2,1172.3L595.1,1172.8L597.1,1173.4L599.0,1174.0L600.9,1174.5L602.9,1175.0L604.8,1175.6L606.8,1176.1L608.7,1176.5L610.7,1177.0L612.6,1177.5L614.6,1177.9L616.6,1178.4L618.5,1178.8L620.5,1179.2L622.5,1179.6L624.4,1180.0L626.4,1180.4L628.4,1180.8L630.4,1181.1L632.3,1181.5L634.3,1181.8L636.3,1182.2L638.3,1182.5L640.3,1182.8L642.2,1183.1L644.2,1183.4L646.2,1183.7L648.2,1184.0L650.2,1184.2L652.2,1184.5L654.2,1184.7L656.2,1185.0L658.2,1185.2L660.1,1185.4L662.1,1185.6L664.1,1185.8L666.1,1186.0L668.1,1186.2L670.1,1186.4L672.1,1186.5L674.1,1186.7L676.1,1186.8L678.1,1187.0L680.1,1187.1L682.1,1187.2L684.1,1187.3L686.1,1187.4L688.1,1187.5L690.1,1187.6L692.2,1187.7L694.2,1187.7L696.2,1187.8L698.2,1187.8L700.2,1187.8L702.2,1187.9L704.2,1187.9L706.2,1187.9L708.2,1187.9L710.3,1187.9L712.3,1187.8L714.3,1187.8L716.3,1187.8L718.3,1187.7" fill="none" stroke="#bc8f8f" stroke-width="4.4"/>
<path d="M152.3,1190.4L154.3,1190.4L156.3,1190.5L158.3,1190.5L160.3,1190.5L162.4,1190.5L164.4,1190.6L166.4,1190.6L168.4,1190.6L170.4,1190.6L172.4,1190.6L174.4,1190.7L176.5,1190.7L178.5,1190.7L180.5,1190.7L182.5,1190.7L184.5,1190.7L186.5,1190.7L188.5,1190.7L190.5,1190.6L192.5,1190.6L194.5,1190.6L196.5,1190.6L198.5,1190.5L200.5,1190.5L202.5,1190.5L204.6,1190.4L206.6,1190.3L208.6,1190.3L210.6,1190.2L212.6,1190.1L214.6,1190.1L216.6,1190.0L218.6,1189.9L220.6,1189.7L222.5,1189.6L224.5,1189.5L226.5,1189.4L228.5,1189.2L230.5,1189.1L232.5,1188.9L234.5,1188.7L236.5,1188.6L238.5,1188.4L240.5,1188.2L242.5,1188.0L244.5,1187.7L246.5,1187.5L248.5,1187.3L250.4,1187.0L252.4,1186.7L254.4,1186.5L256.4,1186.2L258.4,1185.9L260.4,1185.5L262.4,1185.2L264.4,1184.9L266.3,1184.5L268.3,1184.1L270.3,1183.8L272.3,1183.4L274.3,1182.9L276.2,1182.5L278.2,1182.1L280.2,1181.6L282.2,1181.1L284.1,1180.6L286.1,1180.1L288.0,1179.6L290.0,1179.0L291.9,1178.4L293.8,1177.8L295.8,1177.2L297.7,1176.6L299.6,1175.9L301.5,1175.3L303.4,1174.6L305.2,1173.8L307.1,1173.1L309.0,1172.3L310.8,1171.5L312.6,1170.7L314.4,1169.9L316.2,1169.0L318.0,1168.1L319.8,1167.2L321.6,1166.2L323.3,1165.3L325.0,1164.3L326.7,1163.2L328.4,1162.2L330.1,1161.1L331.8,1160.0L333.4,1158.8L335.0,1157.7L336.6,1156.5L338.2,1155.3L339.8,1154.0L341.3,1152.8L342.9,1151.5L344.4,1150.2L345.9,1148.8L347.4,1147.5L348.9,1146.1L350.3,1144.8L351.8,1143.4L353.2,1141.9L354.6,1140.5L356.0,1139.1L357.4,1137.6L358.8,1136.1L360.1,1134.6L361.5,1133.1L362.8,1131.6L364.1,1130.1L365.4,1128.5L366.7,1127.0L368.0,1125.4L369.3,1123.9L370.6,1122.3L371.9,1120.8L373.2,1119.3L374.5,1117.7L375.8,1116.2L377.1,1114.6L378.4,1113.1L379.7,1111.6L381.0,1110.1L382.4,1108.6L383.7,1107.2L385.1,1105.7L386.5,1104.3L387.9,1102.8L389.3,1101.4L390.7,1100.1L392.2,1098.7L393.7,1097.4L395.2,1096.0L396.7,1094.7L398.2,1093.4L399.7,1092.1L401.2,1090.8L402.8,1089.5L404.3,1088.2L405.8,1086.9L407.4,1085.6L408.9,1084.3L410.4,1082.9L411.9,1081.6L413.4,1080.2L414.9,1078.9L416.4,1077.5L417.9,1076.2L419.4,1074.8L420.9,1073.4L422.5,1072.1L424.0,1070.7L425.5,1069.4L427.0,1068.1L428.5,1066.8L430.1,1065.5L431.6,1064.2L433.2,1062.9L434.8,1061.6L436.4,1060.4L438.0,1059.2L439.6,1058.0L441.3,1056.9L442.9,1055.7L444.6,1054.6L446.3,1053.6L448.0,1052.6L449.8,1051.6L451.5,1050.6L453.3,1049.7L455.1,1048.8L456.9,1048.0L458.8,1047.2L460.6,1046.5L462.5,1045.8L464.4,1045.2L466.3,1044.6L468.2,1044.1L470.1,1043.7L472.1,1043.3L474.0,1043.0L476.0,1042.7L477.9,1042.5L479.9,1042.4L481.9,1042.4L483.9,1042.4L486.0,1042.4L488.0,1042.6L490.0,1042.7L492.0,1042.9L494.1,1043.1L496.1,1043.4L498.1,1043.6L500.1,1043.9L502.1,1044.2L504.2,1044.4L506.2,1044.8L508.2,1045.1L510.2,1045.4L512.1,1045.8L514.1,1046.2L516.1,1046.6L518.1,1047.1L520.0,1047.6L521.9,1048.1L523.9,1048.7L525.8,1049.3L527.7,1050.0L529.6,1050.7L531.4,1051.4L533.3,1052.2L535.1,1053.1L536.9,1053.9L538.7,1054.8L540.5,1055.8L542.2,1056.8L543.9,1057.8L545.6,1058.9L547.2,1060.0L548.9,1061.1L550.5,1062.3L552.1,1063.5L553.6,1064.8L555.1,1066.1L556.6,1067.4L558.1,1068.7L559.6,1070.1L561.1,1071.4L562.5,1072.8L564.0,1074.3L565.4,1075.7L566.8,1077.1L568.2,1078.6L569.6,1080.1L571.0,1081.5L572.4,1083.0L573.8,1084.5L575.2,1086.0L576.5,1087.5L577.9,1088.9L579.3,1090.4L580.7,1091.9L582.1,1093.4L583.5,1094.8L584.9,1096.2L586.4,1097.7L587.8,1099.1L589.3,1100.5L590.7,1101.8L592.2,1103.2L593.7,1104.5L595.2,1105.8L596.8,1107.1L598.3,1108.3L599.9,1109.5L601.5,1110.7L603.2,1111.8L604.8,1113.0L606.5,1114.1L608.2,1115.1L609.8,1116.2L611.6,1117.2L613.3,1118.2L615.0,1119.2L616.8,1120.2L618.5,1121.1L620.3,1122.1L622.1,1123.0L623.9,1123.9L625.7,1124.8L627.5,1125.7L629.3,1126.6L631.1,1127.4L632.9,1128.3L634.8,1129.1L636.6,1130.0L638.4,1130.8L640.3,1131.6L642.1,1132.4L643.9,1133.3L645.8,1134.1L647.6,1134.9L649.5,1135.7L651.3,1136.5L653.1,1137.3L655.0,1138.1L656.8,1139.0L658.6,1139.8L660.5,1140.6L662.3,1141.4L664.1,1142.3L665.9,1143.1L667.8,1143.9L669.6,1144.8L671.4,1145.6L673.2,1146.5L675.0,1147.4L676.7,1148.3L678.5,1149.2L680.3,1150.0L682.1,1150.9L683.9,1151.8L685.7,1152.7L687.5,1153.6L689.3,1154.4L691.1,1155.3L692.9,1156.1L694.8,1156.9L696.6,1157.7L698.5,1158.5L700.3,1159.3L702.2,1160.0L704.1,1160.7L706.0,1161.5L707.9,1162.2L709.8,1162.9L711.7,1163.5L713.6,1164.2L715.5,1164.9L717.4,1165.5L719.3,1166.1L721.2,1166.7L723.2,1167.3L725.1,1167.9L727.0,1168.5L729.0,1169.0L730.9,1169.6L732.8,1170.1L734.8,1170.6L736.7,1171.1L738.7,1171.6L740.6,1172.1L742.6,1172.6L744.5,1173.0L746.5,1173.5L748.4,1173.9L750.4,1174.3L752.3,1174.7L754.3,1175.1L756.3,1175.5L758.2,1175.9L760.2,1176.3L762.2,1176.6L764.1,1177.0L766.1,1177.3L768.1,1177.7L770.0,1178.0L772.0,1178.3L774.0,1178.6L776.0,1178.9L778.0,1179.2L779.9,1179.5L781.9,1179.7L783.9,1180.0L785.9,1180.3L787.9,1180.5L789.9,1180.7L791.9,1181.0L793.9,1181.2L795.9,1181.4L797.9,1181.6L799.9,1181.8L801.9,1182.0L803.9,1182.2L805.8,1182.4L807.9,1182.6L809.9,1182.8L811.9,1182.9L813.9,1183.1L815.9,1183.2L817.9,1183.4L819.9,1183.5L821.9,1183.7L823.9,1183.8L825.9,1183.9L827.9,1184.1L829.9,1184.2L831.9,1184.3L833.9,1184.4L835.9,1184.5L838.0,1184.6L840.0,1184.7L842.0,1184.8L844.0,1184.9L846.0,1185.0L848.0,1185.1L850.0,1185.2L852.0,1185.3L854.0,1185.4L856.1,1185.5L858.1,1185.6L860.1,1185.6L862.1,1185.7L864.1,1185.8L866.1,1185.9L868.1,1186.0L870.2,1186.0L872.2,1186.1L874.2,1186.2L876.2,1186.2L878.2,1186.3L880.2,1186.4L882.2,1186.5L884.2,1186.5L886.2,1186.6L888.3,1186.7L890.3,1186.8L892.3,1186.9L894.3,1186.9L896.3,1187.0L898.3,1187.1L900.3,1187.2L902.3,1187.3L904.3,1187.4L906.3,1187.5L908.3,1187.5L910.3,1187.6L912.3,1187.7L914.3,1187.8L916.3,1188.0L918.3,1188.1L920.3,1188.2L922.3,1188.3L924.3,1188.4L926.3,1188.5L928.3,1188.7L930.3,1188.8L932.3,1188.9L934.2,1189.1" fill="none" stroke="#f0f" stroke-width="5.7" stroke-dasharray="27 17.3"/>
<path d="M361.4,955.3L384.1,996.2M648.6,931.9L489.6,1036.4" stroke="#000" stroke-width="1.3" fill="none"/>
<text x="6.8" y="33.2" style="font-family:'Liberation Sans',sans-serif;font-weight:bold;font-size:43.5px;">A</text>
<text x="6.4" y="871.9" style="font-family:'Liberation Sans',sans-serif;font-weight:bold;font-size:43.5px;">B</text>
<text x="60.2" y="48.2" style="font-family:'Liberation Serif',serif;font-size:35px;">6</text>
<text x="59.6" y="274.0" style="font-family:'Liberation Serif',serif;font-size:35px;">4</text>
<text x="60.8" y="500.0" style="font-family:'Liberation Serif',serif;font-size:35px;">2</text>
<text x="61.0" y="726.0" style="font-family:'Liberation Serif',serif;font-size:35px;">0</text>
<text x="75.4" y="750.0" style="font-family:'Liberation Serif',serif;font-size:35px;">-1</text>
<text x="301.1" y="750.0" style="font-family:'Liberation Serif',serif;font-size:35px;">-0.5</text>
<text x="559.7" y="750.2" style="font-family:'Liberation Serif',serif;font-size:35px;">0</text>
<text x="786.5" y="750.0" style="font-family:'Liberation Serif',serif;font-size:35px;">0.5</text>
<text x="508.5" y="788.0" style="font-family:'Liberation Serif',serif;font-size:35px;font-style:italic">Q</text>
<text x="269.0" y="209.7" style="font-family:'Liberation Serif',serif;font-size:35px;">O</text>
<text x="599.3" y="296.0" style="font-family:'Liberation Serif',serif;font-size:35px;">Fe</text>
<text x="447.3" y="489.3" style="font-family:'Liberation Serif',serif;font-size:35px;">Si</text>
<g transform="translate(34.1,410.9) rotate(-90)"><text x="0" y="0" style="font-family:'Liberation Serif',serif;font-size:35px;font-style:italic">q</text></g>
<g transform="translate(50.2,395.2) rotate(-90)"><text x="0" y="0" style="font-family:'Liberation Serif',serif;font-size:28px;">α</text></g>
<g transform="translate(34.0,386.1) rotate(-90)"><text x="0" y="0" style="font-family:'Liberation Serif',serif;font-size:35px;font-style:italic">(</text></g>
<g transform="translate(34.1,374.9) rotate(-90)"><text x="0" y="0" style="font-family:'Liberation Serif',serif;font-size:35px;font-style:italic">Q</text></g>
<g transform="translate(34.5,351.5) rotate(-90)"><text x="0" y="0" style="font-family:'Liberation Serif',serif;font-size:35px;font-style:italic">)</text></g>
<text x="58.9" y="893.8" style="font-family:'Liberation Serif',serif;font-size:35px;">2</text>
<text x="58.6" y="1048.0" style="font-family:'Liberation Serif',serif;font-size:35px;">1</text>
<text x="59.4" y="1202.0" style="font-family:'Liberation Serif',serif;font-size:35px;">0</text>
<text x="222.5" y="1227.1" style="font-family:'Liberation Serif',serif;font-size:35px;">-0.5</text>
<text x="510.5" y="1227.0" style="font-family:'Liberation Serif',serif;font-size:35px;">0</text>
<text x="767.0" y="1227.0" style="font-family:'Liberation Serif',serif;font-size:35px;">0.5</text>
<text x="507.8" y="1280.2" style="font-family:'Liberation Serif',serif;font-size:35px;font-style:italic">Q</text>
<g transform="translate(27.3,1078.1) rotate(-90)"><text x="0" y="0" style="font-family:'Liberation Serif',serif;font-size:35px;font-style:italic">q</text></g>
<g transform="translate(49.2,1067.3) rotate(-90)"><text x="0" y="0" style="font-family:'Liberation Serif',serif;font-size:25px;">Si</text></g>
<g transform="translate(27.0,1053.0) rotate(-90)"><text x="0" y="0" style="font-family:'Liberation Serif',serif;font-size:35px;font-style:italic">(</text></g>
<g transform="translate(27.1,1042.1) rotate(-90)"><text x="0" y="0" style="font-family:'Liberation Serif',serif;font-size:35px;font-style:italic">Q</text></g>
<g transform="translate(27.5,1018.7) rotate(-90)"><text x="0" y="0" style="font-family:'Liberation Serif',serif;font-size:35px;font-style:italic">)</text></g>
<defs><radialGradient id="g0" cx="0.5" cy="0.5" r="0.5" fx="0.62" fy="0.30"><stop offset="0" stop-color="#fefcfc"/><stop offset="0.55" stop-color="#fcf8f8"/><stop offset="0.88" stop-color="#fbf7f7"/><stop offset="1" stop-color="#faf5f5"/></radialGradient><radialGradient id="g1" cx="0.5" cy="0.5" r="0.5" fx="0.62" fy="0.30"><stop offset="0" stop-color="#fdfafa"/><stop offset="0.55" stop-color="#f6f0f0"/><stop offset="0.88" stop-color="#f2ecec"/><stop offset="1" stop-color="#eee7e7"/></radialGradient><radialGradient id="g2" cx="0.5" cy="0.5" r="0.5" fx="0.62" fy="0.30"><stop offset="0" stop-color="#fdf4f4"/><stop offset="0.55" stop-color="#f8e8e8"/><stop offset="0.88" stop-color="#f4e4e4"/><stop offset="1" stop-color="#f0dede"/></radialGradient><radialGradient id="g3" cx="0.5" cy="0.5" r="0.5" fx="0.62" fy="0.30"><stop offset="0" stop-color="#f8eeee"/><stop offset="0.55" stop-color="#f0e2e2"/><stop offset="0.88" stop-color="#ebdddd"/><stop offset="1" stop-color="#e4d6d6"/></radialGradient><radialGradient id="g4" cx="0.5" cy="0.5" r="0.5" fx="0.62" fy="0.30"><stop offset="0" stop-color="#fbf7f7"/><stop offset="0.55" stop-color="#eee8e8"/><stop offset="0.88" stop-color="#e6dfdf"/><stop offset="1" stop-color="#dcd5d5"/></radialGradient><radialGradient id="g5" cx="0.5" cy="0.5" r="0.5" fx="0.62" fy="0.30"><stop offset="0" stop-color="#fbf6f6"/><stop offset="0.55" stop-color="#eee4e4"/><stop offset="0.88" stop-color="#e6dddd"/><stop offset="1" stop-color="#dcd4d4"/></radialGradient><radialGradient id="g6" cx="0.5" cy="0.5" r="0.5" fx="0.62" fy="0.30"><stop offset="0" stop-color="#f4e6e6"/><stop offset="0.55" stop-color="#e2d9d9"/><stop offset="0.88" stop-color="#d7cfcf"/><stop offset="1" stop-color="#cac2c2"/></radialGradient><radialGradient id="g7" cx="0.5" cy="0.5" r="0.5" fx="0.62" fy="0.30"><stop offset="0" stop-color="#fff2f2"/><stop offset="0.55" stop-color="#f2dada"/><stop offset="0.88" stop-color="#ead3d3"/><stop offset="1" stop-color="#e0caca"/></radialGradient><radialGradient id="g8" cx="0.5" cy="0.5" r="0.5" fx="0.62" fy="0.30"><stop offset="0" stop-color="#fffafa"/><stop offset="0.55" stop-color="#f2dcdc"/><stop offset="0.88" stop-color="#e6d0d0"/><stop offset="1" stop-color="#d8c2c2"/></radialGradient><radialGradient id="g9" cx="0.5" cy="0.5" r="0.5" fx="0.62" fy="0.30"><stop offset="0" stop-color="#fff6f6"/><stop offset="0.55" stop-color="#f2caca"/><stop offset="0.88" stop-color="#e3bbbb"/><stop offset="1" stop-color="#d0a8a8"/></radialGradient><radialGradient id="g10" cx="0.5" cy="0.5" r="0.5" fx="0.62" fy="0.30"><stop offset="0" stop-color="#ffd8d8"/><stop offset="0.55" stop-color="#f2a8a8"/><stop offset="0.88" stop-color="#e69d9d"/><stop offset="1" stop-color="#d89090"/></radialGradient><radialGradient id="g11" cx="0.5" cy="0.5" r="0.5" fx="0.62" fy="0.30"><stop offset="0" stop-color="#d4c4c4"/><stop offset="0.55" stop-color="#aaa2a2"/><stop offset="0.88" stop-color="#9c9595"/><stop offset="1" stop-color="#8a8686"/></radialGradient><radialGradient id="g12" cx="0.5" cy="0.5" r="0.5" fx="0.62" fy="0.30"><stop offset="0" stop-color="#d4c4c4"/><stop offset="0.55" stop-color="#aca4a4"/><stop offset="0.88" stop-color="#9d9696"/><stop offset="1" stop-color="#8a8686"/></radialGradient><radialGradient id="g13" cx="0.5" cy="0.5" r="0.5" fx="0.62" fy="0.30"><stop offset="0" stop-color="#fff0f0"/><stop offset="0.55" stop-color="#ebbaba"/><stop offset="0.88" stop-color="#c9a0a0"/><stop offset="1" stop-color="#a08080"/></radialGradient><radialGradient id="g14" cx="0.5" cy="0.5" r="0.5" fx="0.85" fy="0.40"><stop offset="0" stop-color="#f4c4c4"/><stop offset="0.55" stop-color="#c89a9a"/><stop offset="0.88" stop-color="#a48787"/><stop offset="1" stop-color="#787070"/></radialGradient><radialGradient id="g15" cx="0.5" cy="0.5" r="0.5" fx="0.80" fy="0.30"><stop offset="0" stop-color="#d0a8a8"/><stop offset="0.55" stop-color="#b08888"/><stop offset="0.88" stop-color="#8c6868"/><stop offset="1" stop-color="#604040"/></radialGradient><radialGradient id="g16" cx="0.5" cy="0.5" r="0.5" fx="0.62" fy="0.30"><stop offset="0" stop-color="#d88888"/><stop offset="0.55" stop-color="#a85c5c"/><stop offset="0.88" stop-color="#884545"/><stop offset="1" stop-color="#602828"/></radialGradient><radialGradient id="g17" cx="0.5" cy="0.5" r="0.5" fx="0.68" fy="0.22"><stop offset="0" stop-color="#ffc8c8"/><stop offset="0.55" stop-color="#c08686"/><stop offset="0.88" stop-color="#8b6060"/><stop offset="1" stop-color="#4a3232"/></radialGradient><radialGradient id="g18" cx="0.5" cy="0.5" r="0.5" fx="0.35" fy="0.20"><stop offset="0" stop-color="#9a6464"/><stop offset="0.55" stop-color="#683e3e"/><stop offset="0.88" stop-color="#412626"/><stop offset="1" stop-color="#120808"/></radialGradient><radialGradient id="g19" cx="0.5" cy="0.5" r="0.5" fx="0.62" fy="0.30"><stop offset="0" stop-color="#7a4a4a"/><stop offset="0.55" stop-color="#4a2a2a"/><stop offset="0.88" stop-color="#291717"/><stop offset="1" stop-color="#000000"/></radialGradient><radialGradient id="g20" cx="0.5" cy="0.5" r="0.5" fx="0.62" fy="0.30"><stop offset="0" stop-color="#302020"/><stop offset="0.55" stop-color="#100808"/><stop offset="0.88" stop-color="#090404"/><stop offset="1" stop-color="#000000"/></radialGradient><radialGradient id="g21" cx="0.5" cy="0.5" r="0.5" fx="0.60" fy="0.30"><stop offset="0" stop-color="#ffff60"/><stop offset="0.55" stop-color="#e4e400"/><stop offset="0.88" stop-color="#a1a100"/><stop offset="1" stop-color="#505000"/></radialGradient><radialGradient id="g22" cx="0.5" cy="0.5" r="0.5" fx="0.62" fy="0.30"><stop offset="0" stop-color="#fefcfc"/><stop offset="0.55" stop-color="#fbf7f7"/><stop offset="0.88" stop-color="#f9f5f5"/><stop offset="1" stop-color="#f7f2f2"/></radialGradient><radialGradient id="g23" cx="0.5" cy="0.5" r="0.5" fx="0.62" fy="0.30"><stop offset="0" stop-color="#fcf4f4"/><stop offset="0.55" stop-color="#f8eeee"/><stop offset="0.88" stop-color="#f4eaea"/><stop offset="1" stop-color="#f0e4e4"/></radialGradient><radialGradient id="g24" cx="0.5" cy="0.5" r="0.5" fx="0.70" fy="0.30"><stop offset="0" stop-color="#fefafa"/><stop offset="0.55" stop-color="#f6eeee"/><stop offset="0.88" stop-color="#efe6e6"/><stop offset="1" stop-color="#e6dcdc"/></radialGradient><radialGradient id="g25" cx="0.5" cy="0.5" r="0.5" fx="0.70" fy="0.25"><stop offset="0" stop-color="#fffafa"/><stop offset="0.55" stop-color="#f4e8e8"/><stop offset="0.88" stop-color="#e6dada"/><stop offset="1" stop-color="#d4c8c8"/></radialGradient><radialGradient id="g26" cx="0.5" cy="0.5" r="0.5" fx="0.62" fy="0.30"><stop offset="0" stop-color="#fcf0f0"/><stop offset="0.55" stop-color="#f2e0e0"/><stop offset="0.88" stop-color="#e3d3d3"/><stop offset="1" stop-color="#d0c4c4"/></radialGradient><radialGradient id="g27" cx="0.5" cy="0.5" r="0.5" fx="0.62" fy="0.30"><stop offset="0" stop-color="#faf0f0"/><stop offset="0.55" stop-color="#f4e6e6"/><stop offset="0.88" stop-color="#ede0e0"/><stop offset="1" stop-color="#e4d8d8"/></radialGradient><radialGradient id="g28" cx="0.5" cy="0.5" r="0.5" fx="0.72" fy="0.30"><stop offset="0" stop-color="#fffafa"/><stop offset="0.55" stop-color="#f4e6e6"/><stop offset="0.88" stop-color="#e9dada"/><stop offset="1" stop-color="#dccccc"/></radialGradient><radialGradient id="g29" cx="0.5" cy="0.5" r="0.5" fx="0.60" fy="0.15"><stop offset="0" stop-color="#907070"/><stop offset="0.55" stop-color="#646060"/><stop offset="0.88" stop-color="#545252"/><stop offset="1" stop-color="#404040"/></radialGradient><radialGradient id="g30" cx="0.5" cy="0.5" r="0.5" fx="0.75" fy="0.20"><stop offset="0" stop-color="#c89a9a"/><stop offset="0.55" stop-color="#989090"/><stop offset="0.88" stop-color="#827e7e"/><stop offset="1" stop-color="#686868"/></radialGradient><radialGradient id="g31" cx="0.5" cy="0.5" r="0.5" fx="0.85" fy="0.15"><stop offset="0" stop-color="#d88484"/><stop offset="0.55" stop-color="#885252"/><stop offset="0.88" stop-color="#4f2f2f"/><stop offset="1" stop-color="#0a0505"/></radialGradient><radialGradient id="g32" cx="0.5" cy="0.5" r="0.5" fx="0.45" fy="0.25"><stop offset="0" stop-color="#ff4848"/><stop offset="0.55" stop-color="#d01818"/><stop offset="0.88" stop-color="#8c1313"/><stop offset="1" stop-color="#3a0c0c"/></radialGradient><radialGradient id="g33" cx="0.5" cy="0.5" r="0.5" fx="0.50" fy="0.30"><stop offset="0" stop-color="#f8f8a0"/><stop offset="0.55" stop-color="#e2e23e"/><stop offset="0.88" stop-color="#b4b42d"/><stop offset="1" stop-color="#7c7c18"/></radialGradient><radialGradient id="g34" cx="0.5" cy="0.5" r="0.5" fx="0.60" fy="0.25"><stop offset="0" stop-color="#ff5a5a"/><stop offset="0.55" stop-color="#d42222"/><stop offset="0.88" stop-color="#991a1a"/><stop offset="1" stop-color="#501010"/></radialGradient></defs><clipPath id="c1"><rect x="136.8" y="767.2" width="221.4" height="209.4"/></clipPath><rect x="136.8" y="767.2" width="221.4" height="209.4" fill="#fff"/><g clip-path="url(#c1)"><circle cx="269.1" cy="824.0" r="5.5" fill="url(#g0)"/><circle cx="297.4" cy="899.5" r="8.0" fill="url(#g0)"/><circle cx="181.3" cy="915.2" r="8.0" fill="url(#g0)"/><circle cx="184.0" cy="817.0" r="10.6" fill="url(#g1)"/><circle cx="224.4" cy="948.9" r="7.0" fill="url(#g2)"/><circle cx="156.0" cy="980.0" r="8.0" fill="url(#g3)"/><circle cx="317.8" cy="944.4" r="11.6" fill="url(#g4)"/><circle cx="309.6" cy="849.3" r="11.5" fill="url(#g5)"/><circle cx="352.0" cy="801.4" r="12.5" fill="url(#g6)"/><circle cx="230.8" cy="848.0" r="10.8" fill="url(#g7)"/><ellipse cx="264.2" cy="951.2" rx="12.0" ry="13.2" fill="url(#g8)"/><circle cx="213.5" cy="911.8" r="13.5" fill="url(#g9)"/><circle cx="184.3" cy="867.4" r="9.0" fill="url(#g10)"/><circle cx="224.4" cy="767.0" r="12.5" fill="url(#g11)"/><circle cx="281.5" cy="766.0" r="12.0" fill="url(#g12)"/><circle cx="281.6" cy="884.1" r="14.0" fill="url(#g13)"/><circle cx="350.0" cy="906.2" r="14.5" fill="url(#g14)"/><circle cx="132.0" cy="962.0" r="11.5" fill="url(#g15)"/><circle cx="295.5" cy="983.0" r="16.0" fill="url(#g16)"/><ellipse cx="280.0" cy="797.5" rx="17.5" ry="18.7" fill="url(#g17)"/><ellipse cx="168.5" cy="771.5" rx="24.0" ry="21.0" fill="url(#g18)" transform="rotate(22 168.5 771.5)"/><circle cx="133.0" cy="866.0" r="13.0" fill="url(#g19)"/><circle cx="367.0" cy="866.0" r="16.0" fill="url(#g20)"/><circle cx="234.5" cy="874.8" r="26.1" fill="url(#g21)"/></g><rect x="136.8" y="767.2" width="221.4" height="209.4" fill="none" stroke="#222" stroke-width="1.6"/><clipPath id="c2"><rect x="649.2" y="824.7" width="256.1" height="233.9"/></clipPath><rect x="649.2" y="824.7" width="256.1" height="233.9" fill="#fff"/><g clip-path="url(#c2)"><circle cx="654.9" cy="910.5" r="5.0" fill="url(#g0)"/><circle cx="786.5" cy="870.0" r="10.0" fill="url(#g0)"/><circle cx="781.0" cy="942.7" r="8.0" fill="url(#g22)"/><circle cx="659.1" cy="1048.7" r="12.0" fill="url(#g23)"/><circle cx="905.0" cy="985.0" r="6.0" fill="url(#g1)"/><circle cx="903.6" cy="1048.7" r="8.0" fill="url(#g1)"/><circle cx="841.5" cy="931.7" r="14.5" fill="url(#g24)"/><circle cx="718.6" cy="919.8" r="14.0" fill="url(#g25)"/><circle cx="658.0" cy="977.0" r="16.0" fill="url(#g26)"/><circle cx="735.5" cy="1006.3" r="14.0" fill="url(#g27)"/><circle cx="827.7" cy="1007.0" r="17.0" fill="url(#g28)"/><circle cx="656.0" cy="838.0" r="17.0" fill="url(#g29)"/><circle cx="873.0" cy="836.0" r="25.0" fill="url(#g30)"/><ellipse cx="906.0" cy="882.0" rx="56.0" ry="51.5" fill="url(#g31)"/><path d="M724.5,872.0L736.4,929.8" stroke="#cf3c3c" stroke-width="12.5"/><path d="M736.4,929.8L748.2,987.5" stroke="#d6d640" stroke-width="12.5"/><path d="M722.3,872.4L734.2,930.2" stroke="#e86060" stroke-width="3.5" opacity="0.8"/><path d="M734.2,930.2L746.0,987.9" stroke="#ecec70" stroke-width="3.5" opacity="0.8"/><path d="M748.2,987.5L798.5,975.1" stroke="#e0e048" stroke-width="12.5"/><path d="M798.5,975.1L848.8,962.8" stroke="#d84848" stroke-width="12.5"/><path d="M748.7,989.6L799.0,977.3" stroke="#f0f070" stroke-width="3.5" opacity="0.8"/><path d="M799.0,977.3L849.3,964.9" stroke="#f07070" stroke-width="3.5" opacity="0.8"/><ellipse cx="723.4" cy="867.3" rx="20.3" ry="20.6" fill="url(#g32)"/><circle cx="748.2" cy="987.5" r="24.7" fill="url(#g33)"/><ellipse cx="848.8" cy="962.8" rx="18.4" ry="17.5" fill="url(#g34)"/></g><rect x="649.2" y="824.7" width="256.1" height="233.9" fill="none" stroke="#222" stroke-width="1.6"/>
</svg>
</body></html>
